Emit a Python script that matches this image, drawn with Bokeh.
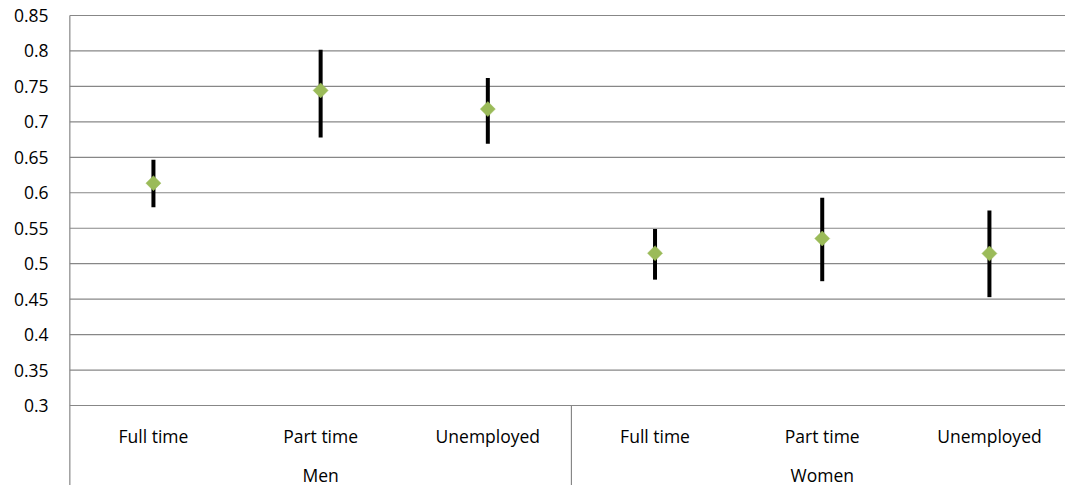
import math
from bokeh.plotting import figure
from bokeh.models import Range1d, FixedTicker, LinearAxis
from bokeh.core.properties import value
from bokeh.embed import file_html
from bokeh.resources import INLINE

# ---- data ----
groups = ["Men", "Women"]
subcats = ["Full time", "Part time", "Unemployed"]
means = [0.6135, 0.7444, 0.718, 0.5148, 0.5355, 0.5144]
upper = [0.6465, 0.8016, 0.762, 0.549, 0.593, 0.575]
lower = [0.5797, 0.678, 0.669, 0.4775, 0.4753, 0.4528]
tick_labels = ["0.3", "0.35", "0.4", "0.45", "0.5", "0.55", "0.6",
               "0.65", "0.7", "0.75", "0.8", "0.85"]

ticks = [float(t) for t in tick_labels]
n = len(groups) * len(subcats)
xs = list(range(n))
sub_labels = [s for g in groups for s in subcats]
group_x = [i * len(subcats) + (len(subcats) - 1) / 2 for i in range(len(groups))]

FONT = value("Open Sans")
FSIZE = "17.5px"
GRID = "#878787"

y_min, y_max = ticks[0], ticks[-1]
px_per_unit = 390 / (y_max - y_min)
y_bottom = y_min - 80 / px_per_unit
y_top = y_max + 15 / px_per_unit

p = figure(width=1065, height=485,
           x_range=Range1d(-0.508, 5.455), y_range=Range1d(y_bottom, y_top),
           output_backend="svg", toolbar_location=None,
           x_axis_location=None, y_axis_location=None,
           min_border_left=68, min_border_right=0,
           min_border_top=0, min_border_bottom=0)
p.outline_line_color = None
p.xgrid.grid_line_color = None
p.ygrid.grid_line_color = None
p.background_fill_color = "white"
p.border_fill_color = "white"

yaxis = LinearAxis(ticker=FixedTicker(ticks=ticks),
                   major_label_overrides={t: l for t, l in zip(ticks, tick_labels)})
yaxis.axis_line_color = None
yaxis.major_tick_line_color = None
yaxis.minor_tick_line_color = None
yaxis.major_tick_out = 0
yaxis.major_tick_in = 0
yaxis.major_label_standoff = 20
yaxis.major_label_text_font = "Open Sans"
yaxis.major_label_text_font_size = FSIZE
yaxis.major_label_text_color = "black"
p.add_layout(yaxis, "left")

left_edge = -0.5
right_edge = n - 0.5

# horizontal gridlines
p.segment(x0=[left_edge] * len(ticks), x1=[right_edge] * len(ticks),
          y0=ticks, y1=ticks, line_color=GRID, line_width=1.2)
# vertical axis line and group divider
p.segment(x0=[left_edge], x1=[left_edge], y0=[y_max], y1=[y_bottom],
          line_color=GRID, line_width=1.2)
div_x = [i * len(subcats) - 0.5 for i in range(1, len(groups))]
p.segment(x0=div_x, x1=div_x, y0=[y_min] * len(div_x), y1=[y_bottom] * len(div_x),
          line_color=GRID, line_width=1.2)

# error bars
p.segment(x0=xs, x1=xs, y0=lower, y1=upper, line_color="black",
          line_width=4, line_cap="butt")
# points
p.scatter(x=xs, y=means, marker="square", size=10.6, angle=math.pi / 4,
          fill_color="#9BBB59", line_color="#9BBB59", line_width=0.5)

# category labels
p.text(x=xs, y=[y_min] * n, text=sub_labels, y_offset=30,
       text_align="center", text_baseline="middle",
       text_font=FONT, text_font_size=FSIZE, text_color="black")
p.text(x=group_x, y=[y_min] * len(groups), text=groups, y_offset=69,
       text_align="center", text_baseline="middle",
       text_font=FONT, text_font_size=FSIZE, text_color="black")

open("out.html", "w").write(file_html(p, INLINE))
